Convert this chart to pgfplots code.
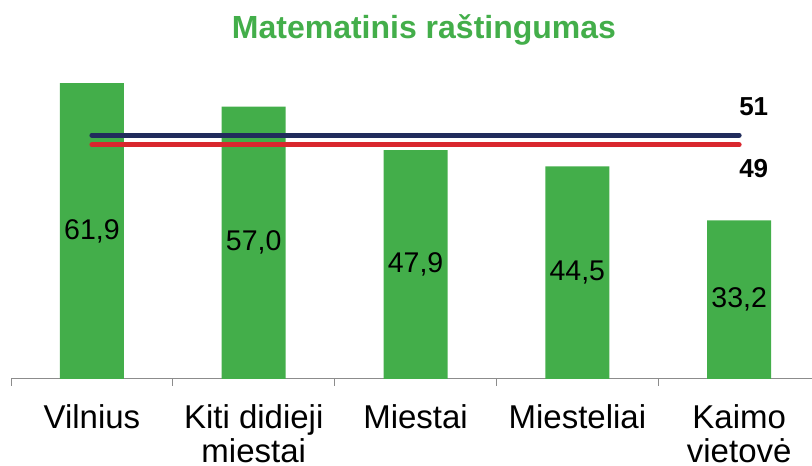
\documentclass[border=0pt]{standalone}
\usepackage{fontspec}
\setmainfont{Liberation Sans}
\usepackage{pgfplots}
\pgfplotsset{compat=1.18}
\definecolor{barg}{RGB}{67,174,74}
\definecolor{navyl}{RGB}{33,44,92}
\definecolor{redl}{RGB}{217,39,46}
\definecolor{axgray}{RGB}{140,140,140}
\begin{document}
\begin{tikzpicture}[x=1pt,y=1pt]
\useasboundingbox (0,0) rectangle (812,466);
\node[font=\fontsize{32}{36}\selectfont\bfseries, text=barg] at (424,436) {Matematinis raštingumas};
\begin{axis}[
  at={(11pt,87pt)}, anchor=south west,
  scale only axis, width=801pt, height=334.6pt,
  xmin=-0.5, xmax=4.45, ymin=0, ymax=70,
  hide y axis,
  axis x line*=bottom,
  x axis line style={axgray, line width=1pt, -},
  xtick={0,1,2,3,4},
  xticklabels={Vilnius,{Kiti didieji\\miestai},Miestai,Miesteliai,{Kaimo\\vietovė}},
  major tick length=0pt,
  xticklabel style={font=\fontsize{33}{34}\selectfont, align=center, anchor=north, yshift=-22pt},
  extra x ticks={-0.5,0.5,1.5,2.5,3.5},
  extra x tick labels={},
  extra x tick style={major tick length=7pt, tick align=outside, tick style={axgray, line width=1pt}},
  clip=false,
  /pgf/number format/assume math mode=true,
]
\addplot[ybar, bar width=64pt, fill=barg, draw=none,
  nodes near coords={\pgfmathprintnumber[fixed, fixed zerofill, precision=1, use comma, assume math mode=true]{\pgfplotspointmeta}},
  point meta=y,
  visualization depends on={y/2 \as \half},
  every node near coord/.append style={anchor=center, text=black, font=\fontsize{28.5}{32}\selectfont, shift={(axis direction cs:0,-\half)}},
] coordinates {(0,61.9) (1,57.0) (2,47.9) (3,44.5) (4,33.2)};
\addplot[navyl, line width=5pt, line cap=round] coordinates {(0,51) (4,51)};
\addplot[redl, line width=5pt, line cap=round] coordinates {(0,49) (4,49)};
\node[font=\fontsize{26}{30}\selectfont\bfseries] at (axis cs:4.09,56.9) {51};
\node[font=\fontsize{26}{30}\selectfont\bfseries] at (axis cs:4.09,44.1) {49};
\end{axis}
\end{tikzpicture}
\end{document}
